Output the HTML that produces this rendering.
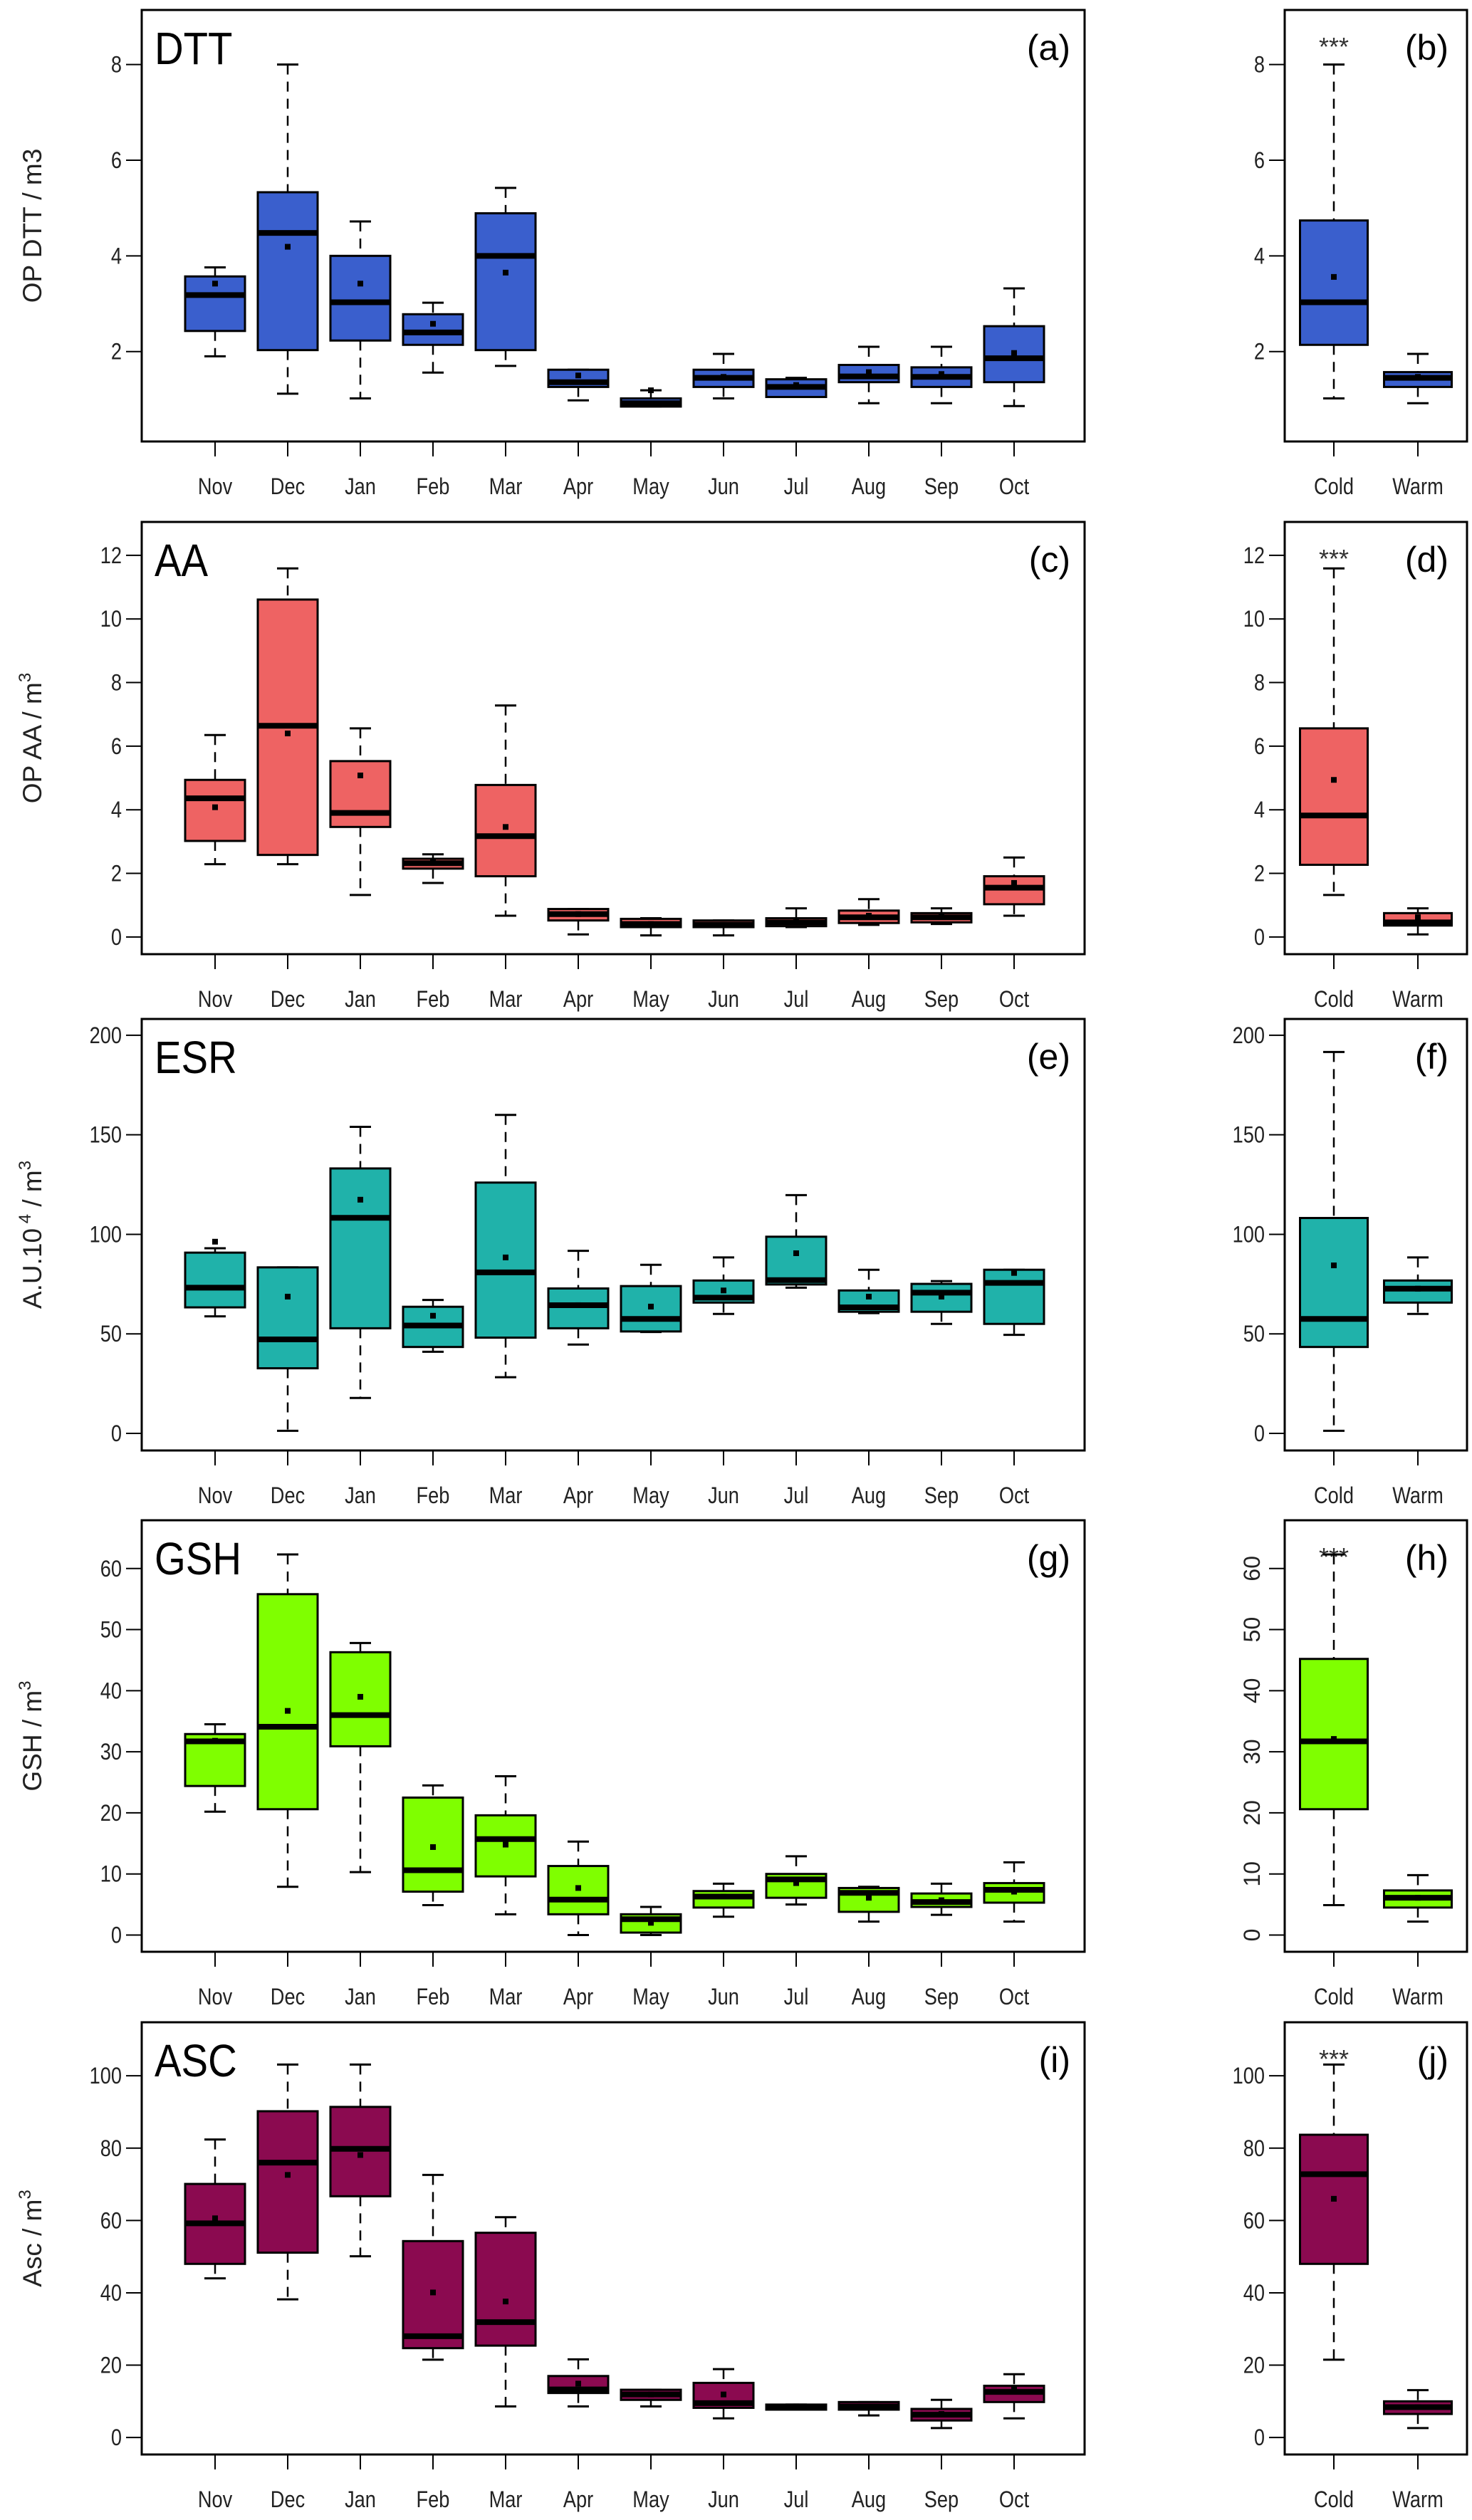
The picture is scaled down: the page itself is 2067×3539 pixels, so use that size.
<!DOCTYPE html>
<html><head><meta charset="utf-8"><style>
html,body{margin:0;padding:0;background:#fff;}
svg{display:block;}
text{font-family:"Liberation Sans",sans-serif;}
</style></head><body>
<svg id="chart" width="2067" height="3539" viewBox="0 0 2067 3539" xmlns="http://www.w3.org/2000/svg"></svg>
<script>
const categories = ["Nov","Dec","Jan","Feb","Mar","Apr","May","Jun","Jul","Aug","Sep","Oct","Cold","Warm"];
// DTT
const dttLow  = [1.9,1.12,1.02,1.56,1.7,0.98,0.85,1.02,1.05,0.92,0.92,0.86,1.02,0.92];
const dttQ1   = [2.43,2.03,2.23,2.14,2.03,1.26,0.85,1.26,1.05,1.36,1.26,1.36,2.14,1.26];
const dttMed  = [3.18,4.48,3.03,2.4,4.0,1.36,0.92,1.45,1.26,1.48,1.47,1.86,3.03,1.45];
const dttQ3   = [3.57,5.33,4.0,2.78,4.89,1.62,1.02,1.62,1.42,1.72,1.67,2.53,4.74,1.57];
const dttHigh = [3.76,8.0,4.72,3.02,5.42,1.62,1.19,1.95,1.45,2.1,2.1,3.32,8.0,1.95];
const dttMean = [3.42,4.19,3.42,2.58,3.65,1.5,1.19,1.47,1.3,1.57,1.53,1.97,3.56,1.47];
// AA
const aaLow  = [2.29,2.29,1.32,1.7,0.67,0.08,0.05,0.05,0.31,0.38,0.41,0.67,1.32,0.08];
const aaQ1   = [3.02,2.58,3.46,2.15,1.91,0.52,0.31,0.31,0.34,0.44,0.46,1.03,2.27,0.36];
const aaMed  = [4.36,6.64,3.9,2.32,3.17,0.72,0.41,0.39,0.46,0.62,0.62,1.55,3.82,0.46];
const aaQ3   = [4.94,10.61,5.53,2.46,4.78,0.88,0.57,0.52,0.59,0.83,0.75,1.91,6.56,0.75];
const aaHigh = [6.35,11.59,6.56,2.6,7.28,0.88,0.59,0.52,0.9,1.19,0.9,2.5,11.59,0.9];
const aaMean = [4.08,6.4,5.08,2.34,3.46,0.72,0.41,0.39,0.52,0.67,0.67,1.7,4.94,0.62];
// ESR
const esrLow  = [58.8,1.3,17.8,41,28.2,44.6,50.9,60,73.2,60.4,55,49.5,1.3,60];
const esrQ1   = [63.3,32.7,52.8,43.4,48.1,52.8,51.2,65.7,74.8,61.1,61.1,55,43.4,65.7];
const esrMed  = [73.2,47.2,108.3,54.2,80.9,64.4,57.5,68.2,77,63.3,70.7,75.6,57.5,72.7];
const esrQ3   = [90.8,83.4,133.1,63.6,126,72.8,74,76.8,98.8,71.8,75.1,82.2,108.2,76.8];
const esrHigh = [93,83.4,154,67,160,91.7,84.7,88.4,119.7,82.2,76.5,82.2,191.6,88.4];
const esrMean = [96.3,68.7,117.4,59.1,88.4,64.4,63.7,71.8,90.5,68.7,68.7,80.6,84.4,72.7];
// GSH
const gshLow  = [20.2,7.9,10.3,4.9,3.4,0,0,3,5,2.2,3.3,2.2,4.9,2.2];
const gshQ1   = [24.4,20.6,30.9,7.1,9.6,3.4,0.4,4.5,6.1,3.8,4.6,5.3,20.6,4.5];
const gshMed  = [31.7,34.1,36,10.6,15.7,5.8,2.6,6.3,9.1,6.9,5.4,7.4,31.7,6.1];
const gshQ3   = [32.9,55.8,46.3,22.5,19.6,11.3,3.4,7.2,10,7.7,6.8,8.5,45.2,7.3];
const gshHigh = [34.5,62.3,47.8,24.5,26,15.3,4.6,8.4,12.9,7.9,8.4,11.9,62.3,9.8];
const gshMean = [31.8,36.7,39,14.4,14.8,7.7,2,6.3,8.5,6.1,5.7,7.1,32.1,6.1];
// ASC
const ascLow  = [44,38.2,50.1,21.5,8.6,8.6,8.6,5.3,7.7,6.1,2.6,5.3,21.5,2.6];
const ascQ1   = [48,51.1,66.7,24.7,25.4,12.3,10.4,8.2,7.7,7.7,4.7,9.8,48,6.5];
const ascMed  = [59.2,76,79.8,28,31.9,13.3,11.9,9.5,8.6,8.6,6.3,12.6,72.8,8.4];
const ascQ3   = [70.1,90.2,91.4,54.3,56.6,17,13.2,15.1,9.1,9.8,7.9,14.3,83.7,10];
const ascHigh = [82.4,103.1,103.1,72.6,60.9,21.6,13.2,18.9,9.1,9.8,10.4,17.5,103.1,13.1];
const ascMean = [60.6,72.6,78.1,40.1,37.6,14.9,11.9,11.9,8.6,8.4,6.5,13.5,66,8.4];

const dttTicks = [2,4,6,8];
const aaTicks = [0,2,4,6,8,10,12];
const esrTicks = [0,50,100,150,200];
const gshTicks = [0,10,20,30,40,50,60];
const ascTicks = [0,20,40,60,80,100];

const panels = [
 {key:"dtt",name:"DTT",tags:["(a)","(b)"],stars:true,top:14,bottom:620,ymin:0.12,ymax:9.14,ticks:dttTicks,fill:"#3A5FCD",ylab:"OP DTT / m3",sup:false,rot:false,
  d:[dttLow,dttQ1,dttMed,dttQ3,dttHigh,dttMean]},
 {key:"aa",name:"AA",tags:["(c)","(d)"],stars:true,top:733,bottom:1340,ymin:-0.54,ymax:13.05,ticks:aaTicks,fill:"#EE6363",ylab:"OP AA / m",sup:true,rot:false,
  d:[aaLow,aaQ1,aaMed,aaQ3,aaHigh,aaMean]},
 {key:"esr",name:"ESR",tags:["(e)","(f)"],stars:false,top:1431,bottom:2037,ymin:-8.6,ymax:208.2,ticks:esrTicks,fill:"#20B2AA",ylab:"A.U.10",sup:true,esr:true,rot:false,
  d:[esrLow,esrQ1,esrMed,esrQ3,esrHigh,esrMean]},
 {key:"gsh",name:"GSH",tags:["(g)","(h)"],stars:true,top:2135,bottom:2741,ymin:-2.74,ymax:67.9,ticks:gshTicks,fill:"#7FFF00",ylab:"GSH / m",sup:true,rot:true,
  d:[gshLow,gshQ1,gshMed,gshQ3,gshHigh,gshMean]},
 {key:"asc",name:"ASC",tags:["(i)","(j)"],stars:true,top:2840,bottom:3447,ymin:-4.7,ymax:114.8,ticks:ascTicks,fill:"#8B0A50",ylab:"Asc / m",sup:true,rot:false,
  d:[ascLow,ascQ1,ascMed,ascQ3,ascHigh,ascMean]}
];

const NS="http://www.w3.org/2000/svg";
const svg=document.getElementById("chart");
function mk(tag,attrs,parent){const e=document.createElementNS(NS,tag);for(const k in attrs)e.setAttribute(k,attrs[k]);(parent||svg).appendChild(e);return e;}

const L={x0:199,x1:1523,first:302,step:102,bw:84};
const R={x0:1804,x1:2060,c:[1873,1991],bw:95};

panels.forEach(p=>{
  const g=mk("g",{});
  
  
  const y=v=>p.bottom-(v-p.ymin)/(p.ymax-p.ymin)*(p.bottom-p.top);
  [[L.x0,L.x1,"monthly"],[R.x0,R.x1,"seasonal"]].forEach(([a,b,nm],si)=>{
    const fr=mk("rect",{x:a,y:p.top,width:b-a,height:p.bottom-p.top,fill:"#fff",stroke:"#000","stroke-width":3},g);
    
    
    p.ticks.forEach(t=>{
      const ty=y(t);
      mk("line",{x1:a-22,x2:a,y1:ty,y2:ty,stroke:"#000","stroke-width":2},g);
      let tx;
      if(si===1&&p.rot){
        tx=mk("text",{x:a-46,y:ty,"font-size":32,fill:"#222","text-anchor":"middle",transform:`rotate(-90 ${a-46} ${ty})`,"dominant-baseline":"central"},g);
      } else {
        tx=mk("text",{x:a-28,y:ty+11,"font-size":32,fill:"#222","text-anchor":"end",transform:`scale(0.85 1) translate(${(a-28)*(1/0.85-1)} 0)`},g);
      }
      tx.textContent=t;
      
      
    });
  });
  // y title
  const yt=mk("text",{x:0,y:0,"font-size":37,fill:"#222","text-anchor":"middle","font-family":"DejaVu Sans, sans-serif",transform:`translate(58 ${(p.top+p.bottom)/2}) rotate(-90)`},g);
  
  
  if(p.esr){
    yt.appendChild(document.createTextNode("A.U.10"));
    const s1=mk("tspan",{dy:-15,"font-size":24},yt);s1.textContent=" 4";
    const s2=mk("tspan",{dy:15},yt);s2.textContent=" / m";
    const s3=mk("tspan",{dy:-15,"font-size":24},yt);s3.textContent="3";
  } else {
    yt.appendChild(document.createTextNode(p.ylab));
    if(p.sup){const s=mk("tspan",{dy:-15,"font-size":24},yt);s.textContent="3";}
  }
  // titles
  const tt=mk("text",{x:L.x0+18,y:p.top+76,"font-size":64,fill:"#000",transform:`scale(0.88 1) translate(${(L.x0+18)*(1/0.88-1)} 0)`},g);
  tt.textContent=p.name;
  
  
  const t1=mk("text",{x:L.x1-20,y:p.top+70,"font-size":50,fill:"#000","text-anchor":"end"},g);
  t1.textContent=p.tags[0];
  
  
  const t2=mk("text",{x:R.x1-26,y:p.top+70,"font-size":50,fill:"#000","text-anchor":"end"},g);
  t2.textContent=p.tags[1];
  
  
  if(p.stars){
    const st=mk("text",{x:R.c[0],y:p.top+64,"font-size":36,fill:"#333","text-anchor":"middle"},g);
    st.textContent="***";
    
    
  }
  // boxes
  categories.forEach((c,i)=>{
    const cx=i<12?L.first+i*L.step:R.c[i-12];
    const bw=i<12?L.bw:R.bw;
    const [lo,q1,md,q3,hi,mn]=p.d.map(a=>a[i]);
    const bg=mk("g",{},g);
    
    
    mk("line",{x1:cx,x2:cx,y1:y(hi),y2:y(q3),stroke:"#000","stroke-width":2.5,"stroke-dasharray":"14 10"},bg);
    mk("line",{x1:cx,x2:cx,y1:y(q1),y2:y(lo),stroke:"#000","stroke-width":2.5,"stroke-dasharray":"14 10"},bg);
    mk("line",{x1:cx-15,x2:cx+15,y1:y(hi),y2:y(hi),stroke:"#000","stroke-width":3},bg);
    mk("line",{x1:cx-15,x2:cx+15,y1:y(lo),y2:y(lo),stroke:"#000","stroke-width":3},bg);
    mk("rect",{x:cx-bw/2,y:y(q3),width:bw,height:Math.max(1,y(q1)-y(q3)),fill:p.fill,stroke:"#000","stroke-width":3},bg);
    mk("line",{x1:cx-bw/2,x2:cx+bw/2,y1:y(md),y2:y(md),stroke:"#000","stroke-width":8},bg);
    mk("rect",{x:cx-4,y:y(mn)-4,width:8,height:8,fill:"#000"},bg);
    // x tick + label
    mk("line",{x1:cx,x2:cx,y1:p.bottom,y2:p.bottom+21,stroke:"#000","stroke-width":2},g);
    const xl=mk("text",{x:cx,y:p.bottom+74,"font-size":32,fill:"#222","text-anchor":"middle",transform:`scale(0.85 1) translate(${cx*(1/0.85-1)} 0)`},g);
    xl.textContent=c;
    
    
  });
});
</script>
</body></html>
